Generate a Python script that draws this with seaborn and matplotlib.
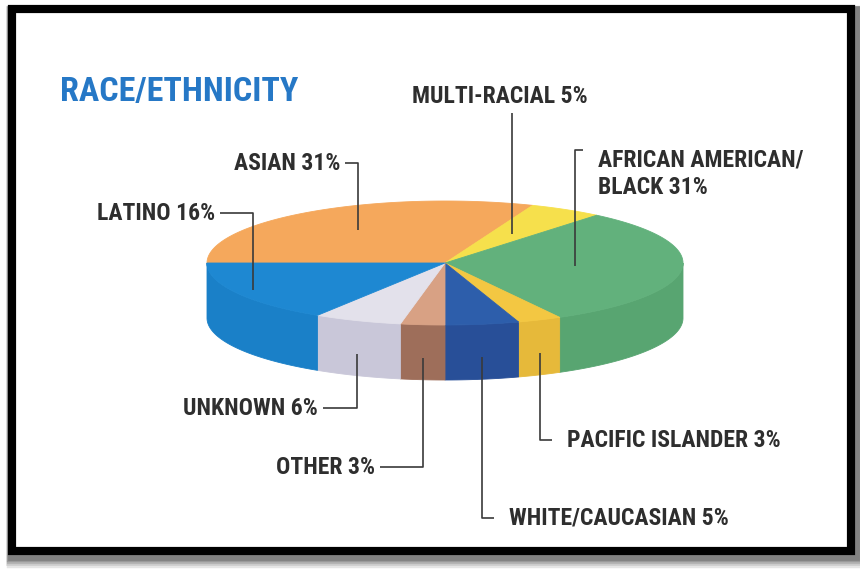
import numpy as np
import matplotlib
matplotlib.use("Agg")
import matplotlib.pyplot as plt
import seaborn as sns
from matplotlib.patches import Polygon, Rectangle
from matplotlib import font_manager

# ---- data -------------------------------------------------------------
groups = ["ASIAN", "MULTI-RACIAL", "AFRICAN AMERICAN/\nBLACK", "PACIFIC ISLANDER",
          "WHITE/CAUCASIAN", "OTHER", "UNKNOWN", "LATINO"]
shares = [31, 5, 31, 3, 5, 3, 6, 16]

top_colors = ["#F5A85C", "#F6E04C", "#62B17C", "#F3C742",
              "#2D5EAB", "#D8A184", "#E3E1EB", "#1E88D2"]
side_colors = ["#E89A50", "#E8D244", "#58A571", "#E6B93A",
               "#284F98", "#9E6E5A", "#C9C7D9", "#1A80C8"]

# ---- style ------------------------------------------------------------
sns.set_theme(style="white")
available = {f.name for f in font_manager.fontManager.ttflist}
label_font = "DejaVu Sans"
for fam in ["Liberation Sans Narrow", "Roboto Condensed", "DejaVu Sans"]:
    if fam in available:
        label_font = fam
        break
plt.rcParams["font.family"] = [label_font, "DejaVu Sans"]
stretch = "condensed" if label_font == "DejaVu Sans" else "normal"

W, H = 860, 569
fig = plt.figure(figsize=(W / 100, H / 100), dpi=100)
ax = fig.add_axes([0, 0, 1, 1])
ax.set_xlim(0, W)
ax.set_ylim(H, 0)
ax.axis("off")

# ---- frame with soft drop shadow --------------------------------------
for i, al in enumerate([0.10, 0.10, 0.12, 0.14, 0.16]):
    off = 7 - i
    ax.add_patch(Rectangle((12 + off * 0.5, 9 + off), 839, 542, fill=False,
                           lw=8 + (5 - i) * 1.2, ec="black", alpha=al, zorder=1))
ax.add_patch(Rectangle((12, 9), 839, 542, fc="white", ec="none", zorder=2))
ax.add_patch(Rectangle((12, 9), 839, 542, fill=False, lw=5.9, ec="black", zorder=20))

# ---- 3-D pie geometry -------------------------------------------------
cx, cy, a, b, depth = 445, 263, 238, 62, 55
total = float(sum(shares))
cum = np.concatenate([[0], np.cumsum(shares)]) / total * 360.0
t_start = 180.0 - cum[:-1]     # slices run clockwise from the left edge
t_end = 180.0 - cum[1:]


def pt(theta, r=1.0, dz=0.0):
    t = np.radians(theta)
    return cx + r * a * np.cos(t), cy - r * b * np.sin(t) + dz


# side walls (front half only)
for ts, te, col in zip(t_start, t_end, side_colors):
    lo, hi = max(te, -180.0), min(ts, 0.0)
    if lo >= hi:
        continue
    th = np.linspace(lo, hi, 80)
    xt, yt = pt(th)
    xb, yb = pt(th[::-1], dz=depth)
    poly = np.column_stack([np.concatenate([xt, xb]), np.concatenate([yt, yb])])
    ax.add_patch(Polygon(poly, closed=True, fc=col, ec=col, lw=0.6, zorder=5))

# top faces
for ts, te, col in zip(t_start, t_end, top_colors):
    th = np.linspace(ts, te, 120)
    xs, ys = pt(th)
    poly = np.column_stack([np.concatenate([[cx], xs]), np.concatenate([[cy], ys])])
    ax.add_patch(Polygon(poly, closed=True, fc=col, ec=col, lw=0.6, zorder=6))

# ---- labels and leader lines ------------------------------------------
mid = (t_start + t_end) / 2.0
txt_kw = dict(fontsize=17, fontweight="bold", color="#2E2E2E",
              fontstretch=stretch, zorder=12)
line_kw = dict(color="#3A3A3A", lw=1.2, zorder=11, solid_capstyle="butt")

label_text = [f"{g} {v}%" for g, v in zip(groups, shares)]

# Asian: label left of a bent leader
x0, y0 = pt(mid[0], r=0.65)
ax.text(340, 163, label_text[0], ha="right", va="center", **txt_kw)
ax.plot([345, x0, x0], [163, 163, y0], **line_kw)

# Multi-racial: label above, straight drop
x1, y1 = pt(mid[1], r=0.55)
ax.text(x1 - 12, 96, label_text[1], ha="center", va="center", **txt_kw)
ax.plot([x1, x1], [113, y1], **line_kw)

# African American / Black: two-line label to the right
x2, y2 = pt(mid[2], r=0.55)
ax.text(x2 + 23, 174, label_text[2], ha="left", va="center",
        linespacing=1.25, **txt_kw)
ax.plot([x2 + 8, x2, x2], [150, 150, y2], **line_kw)

# Latino
x7, y7 = pt(mid[7], r=0.92)
ax.text(215, 213, label_text[7], ha="right", va="center", **txt_kw)
ax.plot([220, x7, x7], [213, 213, y7], **line_kw)


# front slices: leaders start on the side wall
def wall(theta, frac=0.6):
    x, y = pt(theta)
    return x, y + depth * frac


# Unknown
x6, y6 = wall(mid[6])
ax.text(318, 408, label_text[6], ha="right", va="center", **txt_kw)
ax.plot([323, x6, x6], [408, 408, y6], **line_kw)

# Other
x5, y5 = wall(mid[5])
ax.text(375, 467, label_text[5], ha="right", va="center", **txt_kw)
ax.plot([380, x5, x5], [467, 467, y5], **line_kw)

# White / Caucasian
x4, y4 = wall(mid[4])
ax.text(x4 + 27, 518, label_text[4], ha="left", va="center", **txt_kw)
ax.plot([x4, x4, x4 + 12], [y4, 518, 518], **line_kw)

# Pacific Islander
x3, y3 = wall(mid[3])
ax.text(x3 + 27, 440, label_text[3], ha="left", va="center", **txt_kw)
ax.plot([x3, x3, x3 + 12], [y3, 440, 440], **line_kw)

# ---- title --------------------------------------------------------------
ax.text(60, 92, "RACE/ETHNICITY", ha="left", va="center", fontsize=24.5,
        fontweight="bold", color="#2678C6", fontstretch=stretch, zorder=12)

fig.savefig("out.png", dpi=100, facecolor="white")
